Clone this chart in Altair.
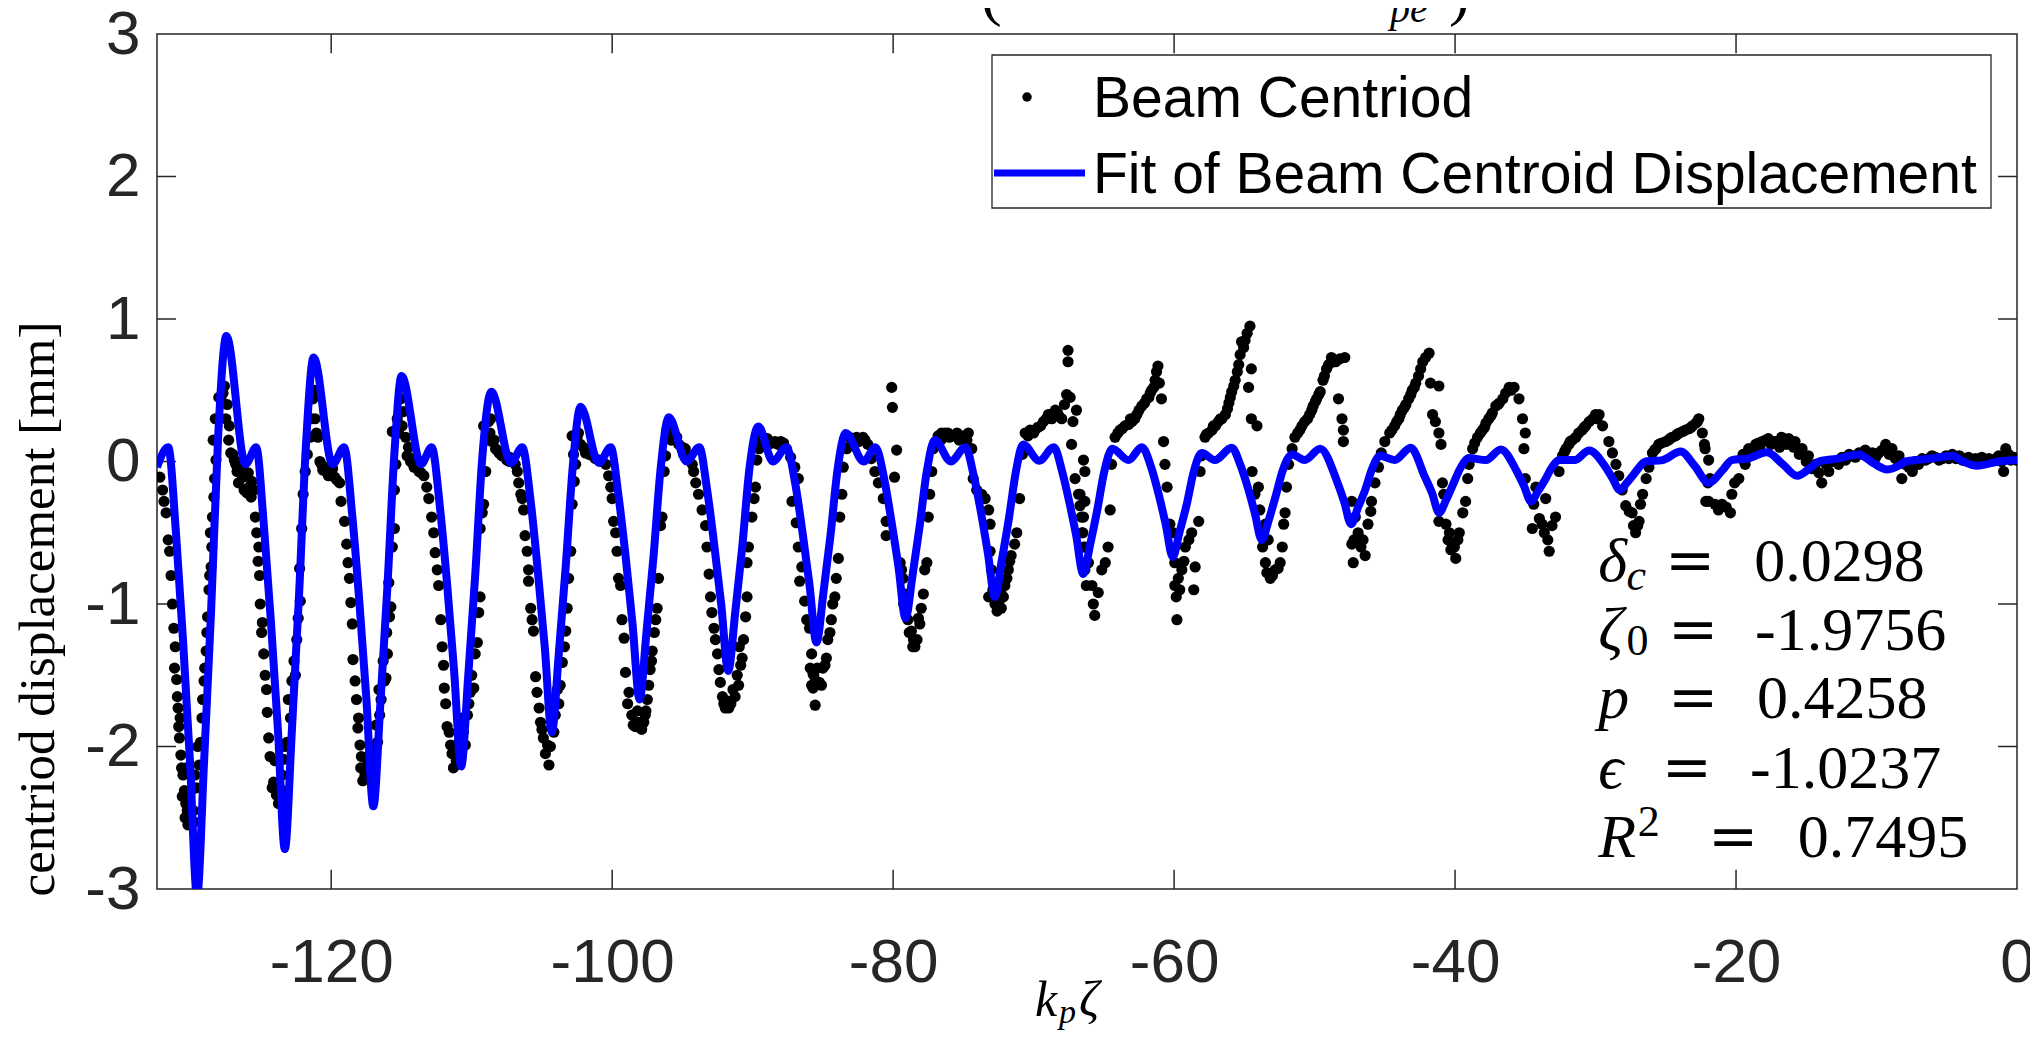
import altair as alt
import pandas as pd

# ---------------- axis ranges / ticks ----------------
X_MIN, X_MAX = -132.4, 0.0
Y_MIN, Y_MAX = -3.0, 3.0
x_tick_values = [-120, -100, -80, -60, -40, -20, 0]
y_tick_values = [-3, -2, -1, 0, 1, 2, 3]

# ---------------- Beam centroid (black dots) ----------------
beam_a = [(-132.2,-0.11),(-132.0,-0.2),(-131.9,-0.28),(-131.75,-0.36),(-131.6,-0.55),(-131.5,-0.63),(-131.4,-0.8),
 (-131.3,-1.0),(-131.2,-1.17),(-131.15,-1.45),(-131.0,-1.53),(-130.9,-1.73),(-130.85,-1.86),(-130.8,-1.94),(-130.7,-2.06),
 (-130.55,-2.2),(-130.45,-2.31),(-130.35,-2.4),(-130.25,-2.45),(-130.1,-2.37),(-129.75,-2.53),(-129.6,-2.29),(-129.4,-2.13),
 (-129.3,-1.97),(-129.15,-1.67),(-129.05,-1.54),(-128.9,-1.33),(-128.8,-1.09),(-128.7,-0.9),(-128.55,-0.74),(-128.5,-0.6),
 (-128.45,-0.39),(-128.3,-0.12),(-128.2,0.01),(-128.25,0.3),(-128.1,0.3),(-127.85,0.44),(-127.6,0.53),(-127.4,0.4),
 (-127.25,0.25),(-127.15,0.06),(-126.9,0.01),(-126.7,-0.07),(-126.5,-0.05),(-126.3,-0.11),(-126.1,-0.08),(-125.85,-0.18),
 (-125.65,-0.14),(-125.5,-0.2),(-125.4,-0.39),(-125.3,-0.5),(-125.15,-0.6),(-125.05,-1.0),(-124.9,-1.13),(-124.8,-1.35),
 (-124.7,-1.5),(-124.55,-1.76),(-124.45,-1.94),(-124.35,-2.07),(-124.2,-2.29),(-123.9,-2.34),(-123.5,-2.2),(-123.4,-2.09),
 (-123.15,-1.97),(-123.05,-1.67),(-122.8,-1.54),(-122.55,-1.5),(-122.45,-1.25),(-122.2,-0.98),(-122.1,-0.47),(-122.0,-0.23),
 (-121.85,-0.07),(-121.5,0.17),(-121.3,0.44),(-121.15,0.3),(-120.95,0.17),(-120.7,-0.02),(-120.5,-0.04),(-120.35,-0.07),
 (-120.05,-0.09),(-119.75,-0.11),(-119.4,-0.15),(-119.3,-0.28),(-119.05,-0.42),(-118.9,-0.58),(-118.8,-0.71),(-118.7,-0.82),
 (-118.6,-0.99),(-118.5,-1.14),(-118.45,-1.39),(-118.3,-1.54),(-118.2,-1.67),(-118.1,-1.87),(-117.95,-1.99),(-117.85,-2.07),
 (-117.75,-2.24),(-117.4,-2.1),(-116.9,-2.02),(-116.7,-1.97),(-116.55,-1.78),(-116.45,-1.67),(-116.2,-1.54),(-116.1,-1.52),
 (-116.0,-1.35),(-115.85,-1.09),(-115.75,-1.02),(-115.65,-0.6),(-115.5,-0.47),(-115.5,-0.2),(-115.4,-0.02),(-115.65,0.21),
 (-115.3,0.3),(-115.05,0.44),(-114.95,0.25),(-114.7,0.17),(-114.6,0.04),(-114.35,0.0),(-114.1,-0.04),(-113.75,-0.07),
 (-113.4,-0.1),(-113.2,-0.18),(-113.05,-0.26),(-112.85,-0.39),(-112.7,-0.5),(-112.6,-0.64),(-112.45,-0.76),(-112.35,-0.87),
 (-112.2,-1.11),(-112.1,-1.3),(-112.0,-1.43),(-111.95,-1.59),(-111.75,-1.86),(-111.5,-1.99),(-111.3,-2.15),(-110.9,-1.97),
 (-110.7,-1.8)]

beam_b = [(-110.45,-1.99),(-110.3,-1.78),(-110.1,-1.62),(-109.85,-1.59),(-109.75,-1.35),(-109.6,-1.27),(-109.5,-1.06),
 (-109.4,-0.95),(-109.4,-0.47),(-109.25,-0.36),(-109.15,-0.3),(-109.0,-0.07),(-109.15,0.25),(-108.8,0.28),(-108.7,0.2),
 (-108.55,0.14),(-108.3,0.09),(-108.05,0.06),(-107.85,0.04),(-107.5,0.01),(-107.3,0.03),(-107.1,0.01),(-106.9,-0.02),
 (-106.75,-0.07),(-106.65,-0.15),(-106.5,-0.23),(-106.4,-0.26),(-106.3,-0.34),(-106.2,-0.52),(-106.05,-0.63),(-105.95,-0.76),
 (-105.95,-0.84),(-105.8,-1.03),(-105.7,-1.11),(-105.6,-1.19),(-105.45,-1.51),(-105.35,-1.62),(-105.2,-1.73),(-105.1,-1.83),
 (-104.9,-1.94),(-104.6,-1.99),(-104.5,-2.13),(-104.3,-1.83),(-104.05,-1.78),(-103.8,-1.7),(-103.7,-1.57),(-103.55,-1.41),
 (-103.3,-1.19),(-103.2,-1.03),(-103.1,-0.82),(-102.95,-0.63),(-102.85,-0.3),(-102.7,-0.14),(-102.6,-0.02),(-102.85,0.18),
 (-102.5,0.17),(-102.25,0.12),(-101.9,0.06),(-101.65,0.05),(-101.4,0.04),(-101.2,0.02),(-100.95,0.01),(-100.7,0.0),
 (-100.45,-0.02),(-100.25,-0.1),(-100.1,-0.18),(-100.0,-0.26),(-99.9,-0.42),(-99.75,-0.5),(-99.65,-0.63),(-99.55,-0.82),
 (-99.4,-0.87),(-99.3,-1.11),(-99.15,-1.24),(-99.05,-1.48),(-98.8,-1.62),(-98.6,-1.78),(-98.35,-1.86),(-98.1,-1.83),
 (-97.75,-1.83),(-97.65,-1.78),(-97.5,-1.67),(-97.4,-1.57),(-97.3,-1.46),(-97.15,-1.33),(-96.9,-1.11),(-96.8,-1.03),
 (-96.7,-0.82),(-96.55,-0.45),(-96.45,-0.39),(-96.3,-0.07),(-96.2,0.04),(-96.1,0.22),(-95.9,0.2),(-95.7,0.2),(-95.5,0.15),
 (-95.25,0.12),(-95.0,0.1),(-94.8,0.09),(-94.55,0.04),(-94.3,-0.02),(-94.2,-0.07),(-94.05,-0.15),(-93.85,-0.23),(-93.6,-0.34),
 (-93.35,-0.45),(-93.25,-0.6),(-93.1,-0.79),(-93.0,-0.95),(-92.9,-1.06),(-92.75,-1.17),(-92.65,-1.25),(-92.5,-1.35),
 (-92.4,-1.46),(-92.15,-1.65),(-91.95,-1.73),(-91.7,-1.73),(-91.25,-1.65),(-91.0,-1.57),(-90.85,-1.43),(-90.75,-1.38),
 (-90.65,-1.25),(-90.5,-1.09),(-90.4,-0.95),(-90.4,-0.71),(-90.3,-0.6),(-90.05,-0.39),(-89.9,-0.26),(-89.8,-0.18),
 (-89.7,0.01),(-89.55,0.09),(-89.3,0.17),(-89.05,0.15),(-88.85,0.12),(-88.6,0.13),(-88.4,0.14)]

beam_c = [(-88.2,0.12),(-88.0,0.14),(-87.8,0.13),(-87.6,0.09),(-87.3,0.03),(-87.0,-0.04),(-86.75,-0.12),(-87.2,-0.28),
 (-86.9,-0.43),(-86.75,-0.6),(-86.5,-0.74),(-86.65,-0.84),(-86.3,-0.98),(-86.15,-1.11),(-85.95,-1.17),(-85.8,-1.35),
 (-85.7,-1.49),(-85.8,-1.57),(-85.7,-1.59),(-85.55,-1.71),(-85.1,-1.57),(-84.85,-1.43),(-84.75,-1.38),(-84.65,-1.25),
 (-84.4,-1.11),(-84.15,-0.95),(-84.05,-0.82),(-83.9,-0.68),(-83.8,-0.39),(-83.65,-0.23),(-83.55,-0.04),(-83.3,0.09),
 (-83.1,0.17),(-82.85,0.16),(-82.6,0.17),(-82.35,0.15),(-82.15,0.17),(-81.8,0.12),(-81.55,0.02),(-81.3,-0.07),(-81.05,-0.15),
 (-80.7,-0.26),(-80.5,-0.42),(-80.5,-0.52),(-80.1,0.52),(-80.05,0.38),(-79.75,0.08),(-79.9,-0.11),(-79.5,-0.71),(-79.4,-0.76),
 (-79.3,-0.82),(-79.15,-0.93),(-79.05,-1.03),(-78.95,-1.11),(-78.7,-1.19),(-78.55,-1.25),(-78.45,-1.3),(-78.1,-1.14),
 (-78.0,-1.03),(-77.85,-0.93),(-77.75,-0.76),(-77.6,-0.71),(-77.5,-0.39),(-77.4,-0.23),(-77.25,-0.07),(-77.15,0.09),
 (-76.8,0.18),(-76.55,0.2),(-76.3,0.2),(-76.0,0.17),(-75.75,0.18),(-75.45,0.2),(-75.15,0.18),(-74.9,0.17),(-74.65,0.2),
 (-74.4,0.09),(-74.3,-0.12),(-74.05,-0.2),(-73.7,-0.23),(-73.45,-0.26),(-73.2,-0.34),(-73.1,-0.44),(-73.1,-0.63),
 (-73.0,-0.76),(-73.2,-0.95),(-72.75,-1.0),(-72.3,-1.03),(-72.3,-0.93),(-72.05,-0.87),(-71.9,-0.82),(-71.8,-0.76),
 (-71.6,-0.66),(-71.35,-0.58),(-71.2,-0.5),(-71.0,-0.26),(-70.8,0.05),(-70.6,0.2),(-70.25,0.22),(-69.9,0.22),(-69.5,0.25),
 (-69.3,0.28),(-68.95,0.33),(-68.7,0.3),(-68.45,0.36),(-68.2,0.32),(-68.0,0.3),(-67.65,0.47),(-67.55,0.78),(-67.55,0.7),
 (-67.4,0.45),(-67.2,0.28),(-66.95,0.36),(-67.3,0.12),(-67.05,-0.12),(-66.8,-0.23),(-66.7,-0.31),(-66.6,-0.39),
 (-66.5,-0.5),(-66.35,-0.6),(-66.25,-0.87),(-66.35,-0.76)]

beam_d = [(-66.45,0.01),(-66.35,-0.07),(-66.7,-0.23),(-66.35,-0.28),(-66.45,-0.39),(-66.55,-0.5),(-66.45,-0.6),
 (-66.1,-0.71),(-65.85,-0.87),(-65.75,-1.0),(-65.65,-1.08),(-65.4,-0.92),(-65.15,-0.76),(-64.9,-0.71),(-64.7,-0.6),
 (-64.55,-0.34),(-64.45,-0.02),(-64.2,0.17),(-63.85,0.22),(-63.5,0.25),(-63.25,0.26),(-63.0,0.28),(-62.65,0.33),(-62.3,0.39),
 (-61.95,0.44),(-61.7,0.48),(-61.45,0.52),(-61.25,0.63),(-61.15,0.67),(-60.9,0.44),(-60.75,0.14),(-60.65,-0.02),(-60.5,-0.18),
 (-60.3,-0.44),(-60.05,-0.5),(-59.95,-0.71),(-59.7,-0.82),(-59.95,-0.87),(-59.8,-1.11),(-59.45,-0.76),(-59.2,-0.6),
 (-58.95,-0.55),(-58.75,-0.5),(-58.6,-0.9),(-58.5,-0.74),(-58.25,-0.42),(-58.15,-0.07),(-58.05,0.04),(-57.8,0.17),
 (-57.55,0.2),(-57.3,0.22),(-57.05,0.25),(-56.85,0.28),(-56.6,0.3),(-56.35,0.33),(-56.1,0.41),(-55.9,0.49),(-55.65,0.57),
 (-55.4,0.68),(-55.2,0.84),(-54.95,0.85),(-54.6,0.95),(-54.5,0.65),(-54.7,0.52),(-54.5,0.3),(-54.1,0.25),(-54.45,-0.07),
 (-54.0,-0.18),(-54.25,-0.23),(-53.9,-0.34),(-53.5,-0.44),(-53.3,-0.55),(-53.5,-0.71),(-53.15,-0.82),(-52.8,-0.76),
 (-52.45,-0.71),(-52.3,-0.6),(-52.2,-0.44),(-52.1,-0.36),(-52.0,-0.18),(-51.85,-0.02),(-51.6,0.09),(-51.4,0.17),
 (-51.05,0.22),(-50.7,0.28),(-50.35,0.33),(-50.1,0.39),(-49.85,0.44),(-49.6,0.49),(-49.4,0.57),(-49.15,0.65),(-48.8,0.73),
 (-48.5,0.7),(-48.2,0.72),(-47.85,0.73),(-48.3,0.44),(-48.05,0.3),(-47.95,0.22),(-47.95,0.14),(-47.35,-0.28),(-47.1,-0.39),
 (-46.9,-0.5),(-47.35,-0.58),(-47.25,-0.71),(-46.4,-0.66),(-46.2,-0.44),(-45.95,-0.28),(-45.7,-0.15),(-45.45,-0.04),
 (-45.25,0.06),(-45.0,0.14),(-44.65,0.2),(-44.3,0.25)]

beam_e = [(-44.0,0.3),(-43.75,0.36),(-43.5,0.4),(-43.3,0.44),(-43.05,0.5),(-42.8,0.55),(-42.45,0.65),(-42.1,0.73),
 (-41.85,0.76),(-41.75,0.55),(-41.15,0.53),(-41.6,0.33),(-41.4,0.28),(-41.15,0.2),(-41.0,0.12),(-40.9,-0.15),(-40.8,-0.23),
 (-41.15,-0.42),(-40.65,-0.44),(-40.4,-0.5),(-40.2,-0.58),(-39.95,-0.68),(-39.7,-0.5),(-39.45,-0.36),(-39.25,-0.28),
 (-39.1,-0.12),(-39.0,-0.02),(-38.75,0.09),(-38.4,0.17),(-38.05,0.22),(-37.8,0.27),(-37.6,0.3),(-37.35,0.34),(-37.1,0.39),
 (-36.85,0.41),(-36.6,0.44),(-36.15,0.52),(-35.8,0.52),(-35.45,0.44),(-35.2,0.3),(-35.0,0.2),(-35.1,0.09),(-35.0,-0.12),
 (-34.25,-0.18),(-33.55,-0.26),(-34.5,-0.47),(-33.8,-0.44),(-33.3,-0.63),(-32.85,-0.39),(-32.6,-0.07),(-32.35,0.04),
 (-32.1,0.09),(-31.9,0.12),(-31.65,0.15),(-31.4,0.17),(-30.95,0.22),(-30.7,0.25),(-30.45,0.28),(-30.0,0.33),(-29.75,0.33),
 (-29.5,0.25),(-29.05,0.14),(-28.8,0.06),(-28.55,-0.02),(-28.35,-0.1),(-28.1,-0.2),(-27.85,-0.31),(-27.4,-0.36),
 (-27.15,-0.5),(-26.9,-0.42),(-26.65,-0.23),(-26.4,-0.12),(-26.2,-0.04),(-25.95,0.06),(-25.7,0.09),(-25.5,0.12),(-25.0,0.14),
 (-24.8,0.15),(-24.55,0.17),(-24.3,0.18),(-24.05,0.2),(-23.6,0.22),(-23.35,0.23),(-23.1,0.25),(-22.85,0.27),(-22.65,0.3),
 (-22.25,0.12),(-22.0,-0.15),(-22.15,-0.28)]

beam_f = [(-22.4,0.2),(-22.2,0.09),(-21.95,0.01),(-21.85,-0.12),(-21.95,-0.28),(-21.25,-0.34),(-20.4,-0.36),(-20.3,-0.23),
 (-19.8,-0.12),(-19.6,0.02),(-19.35,-0.02),(-19.1,0.09),(-18.9,0.06),(-18.6,0.12),(-18.3,0.1),(-18.15,0.14),(-17.7,0.16),
 (-17.5,0.12),(-17.2,0.14),(-16.9,0.1),(-16.75,0.17),(-16.4,0.12),(-16.25,0.16),(-15.9,0.1),(-15.8,0.14),(-15.5,0.05),
 (-15.3,0.09),(-15.0,0.0),(-14.85,0.04),(-14.6,-0.05),(-14.35,-0.02),(-14.1,-0.08),(-13.9,-0.15),(-13.6,-0.02),(-13.4,-0.07),
 (-13.1,0.0),(-12.7,-0.02),(-12.45,0.03),(-12.2,0.01),(-11.95,0.05),(-11.75,0.04),(-11.5,0.03),(-11.25,0.06),(-11.0,0.05),
 (-10.8,0.08),(-10.55,0.04),(-10.3,0.06),(-10.05,0.03),(-9.85,0.06),(-9.6,0.08),(-9.35,0.12),(-9.1,0.05),(-8.9,0.09),
 (-8.65,0.02),(-8.4,0.04),(-8.2,-0.12),(-7.95,-0.02),(-7.7,-0.04),(-7.45,-0.07),(-7.25,0.0),(-7.0,-0.02),(-6.75,0.02),
 (-6.5,0.01),(-6.3,0.02),(-6.05,0.04),(-5.8,0.03),(-5.55,0.01),(-5.3,0.02),(-5.05,0.04),(-4.85,0.02),(-4.6,0.05),(-4.35,0.02),
 (-4.1,0.04),(-3.9,0.01),(-3.65,0.02),(-3.45,0.03),(-3.2,0.01),(-2.95,0.02),(-2.7,0.01),(-2.5,0.03),(-2.25,0.0),(-2.0,0.02),
 (-1.75,0.01),(-1.5,0.02),(-1.3,0.04),(-1.1,0.0),(-0.95,-0.07),(-0.8,0.09),(-0.6,0.05),(-0.45,0.01),(-0.25,0.03),(-0.05,0.01)]

# second scan: dots in the denser clusters
beam_g = [(-126.6,-0.15),(-126.2,-0.2),(-125.9,-0.08),(-125.7,-0.25),(-126.0,-0.22),
 (-130.6,-2.35),(-130.4,-2.5),(-130.2,-2.55),(-130.0,-2.45),(-129.9,-2.3),(-129.7,-2.2),(-129.8,-2.45),(-130.3,-2.15),
 (-129.5,-2.0),(-131.1,-1.3),(-130.95,-1.65),(-130.75,-1.8),(-130.65,-2.15),
 (-129.2,-1.8),(-129.0,-1.45),(-128.85,-1.2),(-128.65,-0.8),(-128.6,-0.5),(-128.35,-0.25),(-128.4,0.15),(-128.0,0.45),
 (-127.7,0.48),(-127.5,0.3),(-127.3,0.15),(-127.0,0.05),(-126.8,-0.02),
 (-124.1,-2.25),(-123.75,-2.4),(-123.6,-2.3),(-124.0,-2.1),(-123.3,-2.0),(-122.9,-1.8),(-122.65,-1.4),(-122.35,-1.1),
 (-122.25,-0.75),(-124.6,-1.6),(-124.95,-1.2),(-125.1,-0.8),(-125.2,-0.7),
 (-121.7,0.05),(-121.4,0.3),(-121.2,0.5),(-121.05,0.2),(-120.8,0.0),(-120.6,-0.06),(-120.2,-0.1),(-119.9,-0.05),(-119.6,-0.13),
 (-118.05,-1.8),(-117.9,-2.15),(-117.6,-2.2),(-117.2,-2.05),(-117.0,-2.12),(-116.8,-1.85),(-116.6,-1.6),(-116.3,-1.4),
 (-116.05,-1.2),(-115.9,-0.85),
 (-115.2,0.2),(-114.85,0.35),(-114.5,0.1),(-114.2,0.02),(-113.9,-0.02),(-113.6,-0.08),
 (-111.85,-1.7),(-111.6,-1.9),(-111.4,-2.05),(-111.1,-2.1),(-110.85,-2.05),(-110.6,-1.9),(-110.2,-1.7),(-110.0,-1.5),
 (-108.95,0.15),(-108.65,0.3),(-108.4,0.15),(-108.2,0.08),(-107.7,0.05),(-107.3,0.0),
 (-105.0,-1.88),(-104.75,-2.05),(-104.4,-2.0),(-104.15,-1.9),(-103.9,-1.6),(-103.4,-1.3),
 (-102.75,0.05),(-102.4,0.2),(-102.05,0.1),(-101.7,0.08),
 (-98.9,-1.7),(-98.5,-1.85),(-98.2,-1.75),(-97.9,-1.88),(-97.6,-1.75),(-97.2,-1.4),(-97.0,-1.2),
 (-96.0,0.25),(-95.8,0.15),(-95.4,0.17),(-94.9,0.05),
 (-92.3,-1.55),(-92.05,-1.7),(-91.85,-1.68),(-91.55,-1.7),(-91.4,-1.6),(-91.1,-1.5),(-90.95,-1.3),
 (-89.45,0.13),(-89.15,0.12),(-88.95,0.16),
 (-85.9,-1.45),(-85.65,-1.5),(-85.4,-1.45),(-85.25,-1.55),(-85.0,-1.45),(-84.5,-1.2),(-84.3,-1.0),
 (-82.95,0.12),(-82.45,0.14),(-82.0,0.15),
 (-79.25,-1.0),(-78.85,-1.2),(-78.6,-1.3),(-78.3,-1.25),(-78.2,-1.1),
 (-76.6,0.15),(-76.1,0.2),(-75.3,0.15),(-74.75,0.15),
 (-72.9,-0.9),(-72.6,-1.05),(-72.45,-0.98),(-72.15,-0.95),(-71.7,-0.7),
 (-70.4,0.18),(-70.0,0.2),(-69.7,0.24),(-69.1,0.3),(-68.8,0.33),(-68.3,0.34),(-67.8,0.4),
 (-64.0,0.2),(-63.7,0.23),(-63.1,0.3),(-62.8,0.3),(-62.5,0.36),(-62.1,0.41),(-61.8,0.45),(-61.6,0.5),(-61.35,0.57),(-61.05,0.55),
 (-57.7,0.19),(-57.2,0.25),(-56.7,0.3),(-56.2,0.37),(-56.0,0.45),(-55.75,0.53),(-55.5,0.63),(-55.3,0.75),(-55.05,0.8),(-54.8,0.9),
 (-59.85,-0.95),(-59.6,-0.9),(-59.3,-0.7),(-53.7,-0.6),(-53.4,-0.78),(-53.0,-0.8),(-52.6,-0.75),
 (-51.2,0.2),(-50.9,0.25),(-50.5,0.3),(-50.2,0.36),(-49.95,0.42),(-49.7,0.47),(-49.3,0.6),(-49.0,0.68),(-48.65,0.7),
 (-47.2,-0.55),(-46.7,-0.6),(-46.55,-0.55),(-46.0,-0.35),
 (-44.5,0.22),(-44.15,0.28),(-43.9,0.33),(-43.6,0.38),(-43.15,0.47),(-42.9,0.52),(-42.6,0.6),(-42.3,0.7),
 (-40.5,-0.55),(-40.3,-0.62),(-40.05,-0.6),(-39.8,-0.55),
 (-38.6,0.13),(-38.2,0.2),(-37.9,0.24),(-37.45,0.32),(-36.95,0.4),(-36.4,0.48),(-36.0,0.5),
 (-34.4,-0.3),(-34.0,-0.4),(-33.65,-0.5),(-33.4,-0.55),(-33.1,-0.45),
 (-32.2,0.07),(-31.8,0.14),(-31.2,0.2),(-30.8,0.24),(-30.2,0.3),(-29.9,0.3),
 (-27.6,-0.35),(-27.3,-0.45),(-27.0,-0.45),(-26.8,-0.3),
 (-25.8,0.08),(-25.3,0.13),(-24.7,0.16),(-24.2,0.19),(-23.8,0.21),(-23.2,0.24),(-22.75,0.28),
 (-21.5,-0.3),(-21.0,-0.3),(-20.7,-0.32),(-20.1,-0.15),(-19.5,0.05),(-18.4,0.13),(-17.9,0.15),(-17.4,0.14),(-16.6,0.14),
 (-16.0,0.13)]

# ---------------- Fit curve: extrema and flank points ----------------
fit_pts = [(-132.4,-0.04),(-131.6,0.10),(-131.05,-0.50),(-130.55,-1.25),(-130.05,-2.11),(-129.55,-3.05),(-129.05,-2.11),
 (-128.55,-1.05),(-128.05,0.17),(-127.46,0.88),(-126.1,-0.02),(-125.34,0.10),
 (-124.8,-0.44),(-124.3,-1.11),(-123.8,-1.87),(-123.3,-2.72),(-122.8,-1.89),(-122.3,-0.96),(-121.8,0.11),(-121.25,0.73),
 (-119.9,-0.02),(-119.08,0.10),
 (-118.5,-0.38),(-118.0,-0.98),(-117.5,-1.66),(-117.0,-2.42),(-116.5,-1.70),(-116.0,-0.88),(-115.5,0.06),(-114.99,0.60),
 (-113.6,-0.02),(-112.85,0.10),
 (-112.25,-0.33),(-111.75,-0.86),(-111.25,-1.47),(-110.75,-2.14),(-110.25,-1.51),(-109.75,-0.80),(-109.25,0.02),(-108.6,0.49),
 (-107.2,-0.01),(-106.4,0.10),
 (-105.8,-0.28),(-105.3,-0.76),(-104.8,-1.30),(-104.3,-1.90),(-103.8,-1.35),(-103.3,-0.73),(-102.8,-0.03),(-102.25,0.385),
 (-100.95,-0.01),(-100.1,0.10),
 (-99.55,-0.24),(-99.05,-0.66),(-98.55,-1.14),(-98.05,-1.67),(-97.55,-1.19),(-97.05,-0.66),(-96.55,-0.05),(-95.97,0.31),
 (-94.7,0.0),(-93.8,0.10),
 (-93.24,-0.20),(-92.74,-0.58),(-92.24,-1.0),(-91.74,-1.47),(-91.24,-1.06),(-90.74,-0.60),(-90.24,-0.06),(-89.6,0.246),
 (-88.55,0.0),(-87.6,0.10),
 (-86.96,-0.16),(-86.46,-0.49),(-85.96,-0.86),(-85.46,-1.27),(-84.96,-0.92),(-84.46,-0.52),(-83.96,-0.06),(-83.37,0.20),
 (-82.1,0.0),(-81.26,0.10),
 (-80.62,-0.13),(-80.12,-0.42),(-79.62,-0.74),(-79.12,-1.10),(-78.62,-0.80),(-78.12,-0.46),(-77.62,-0.08),(-77.03,0.15),
 (-75.9,0.0),(-74.85,0.10),
 (-74.26,-0.10),(-73.76,-0.35),(-73.26,-0.64),(-72.76,-0.95),(-72.26,-0.69),(-71.76,-0.40),(-71.26,-0.07),(-70.75,0.12),
 (-69.6,0.005),(-68.56,0.10),
 (-67.97,-0.07),(-67.47,-0.28),(-66.97,-0.52),(-66.47,-0.79),(-65.97,-0.58),(-65.47,-0.34),(-64.97,-0.07),(-64.4,0.09),
 (-63.25,0.01),(-62.3,0.10),
 (-61.6,-0.05),(-61.1,-0.23),(-60.6,-0.44),(-60.1,-0.67),(-59.6,-0.49),(-59.1,-0.30),(-58.6,-0.07),(-58.03,0.06),
 (-57.1,0.01),(-55.9,0.096),
 (-55.26,-0.03),(-54.76,-0.18),(-54.26,-0.36),(-53.76,-0.55),(-53.26,-0.41),(-52.76,-0.24),(-52.26,-0.06),(-51.6,0.05),
 (-50.7,0.01),(-49.6,0.09),
 (-48.4,-0.14),(-47.9,-0.28),(-47.4,-0.44),(-46.9,-0.32),(-46.4,-0.20),(-45.9,-0.05),(-45.34,0.04),(-44.3,0.01),(-43.16,0.096),
 (-42.14,-0.11),(-41.64,-0.22),(-41.14,-0.36),(-40.64,-0.27),(-40.14,-0.16),(-39.64,-0.05),(-39.0,0.024),(-37.8,0.01),
 (-36.75,0.085),
 (-35.6,-0.07),(-35.1,-0.17),(-34.6,-0.28),(-34.1,-0.21),(-33.6,-0.13),(-33.1,-0.04),(-32.6,0.01),(-31.5,0.01),(-30.46,0.077),
 (-29.28,-0.04),(-28.78,-0.12),(-28.28,-0.20),(-27.78,-0.15),(-27.28,-0.09),(-26.43,0.0),(-25.24,0.01),(-23.94,0.07),
 (-22.95,-0.03),(-21.95,-0.15),(-20.95,-0.06),(-20.3,0.01),(-19.2,0.02),(-17.8,0.065),
 (-16.66,-0.02),(-15.66,-0.10),(-14.66,-0.04),(-14.1,0.0),(-12.8,0.02),(-11.27,0.05),
 (-10.25,-0.01),(-9.25,-0.056),(-8.25,-0.02),(-7.95,0.0),(-6.2,0.02),(-4.6,0.04),
 (-3.85,0.0),(-2.85,-0.03),(-1.3,0.0),(0.0,0.01)]

# ---------------- fit parameter annotation ----------------
param_symbols = ["δ", "ζ", "p", "ϵ", "R"]
param_values = ["0.0298", "-1.9756", "0.4258", "-1.0237", "0.7495"]
param_row_y = [-0.705, -1.19, -1.67, -2.16, -2.64]
param_eq_x = [-23.27, -23.06, -23.06, -23.5, -20.2]
param_val_x = [-18.7, -18.65, -18.5, -19.0, -15.6]
param_sym_x = -29.8

legend_labels = ["Beam Centriod", "Fit of Beam Centroid Displacement"]

# ---------------- build tables ----------------
beam_all = beam_a + beam_b + beam_c + beam_d + beam_e + beam_f + beam_g
dots_df = pd.DataFrame({"x": [p[0] for p in beam_all], "y": [p[1] for p in beam_all]})
fit_df = pd.DataFrame({"x": [p[0] for p in fit_pts], "y": [p[1] for p in fit_pts]})

TL_Y = 0.135   # inner tick length in y units
TL_X = 1.35    # inner tick length in x units
tick_rows = []
for xv in x_tick_values[:-1]:
    tick_rows.append({"x": xv, "x2": xv, "y": Y_MIN, "y2": Y_MIN + TL_Y})
    tick_rows.append({"x": xv, "x2": xv, "y": Y_MAX, "y2": Y_MAX - TL_Y})
for yv in y_tick_values[1:-1]:
    tick_rows.append({"x": X_MIN, "x2": X_MIN + TL_X, "y": yv, "y2": yv})
    tick_rows.append({"x": X_MAX, "x2": X_MAX - TL_X, "y": yv, "y2": yv})
ticks_df = pd.DataFrame(tick_rows)

params_df = pd.DataFrame({
    "sym": param_symbols, "val": param_values, "y": param_row_y,
    "eqx": param_eq_x, "valx": param_val_x, "symx": [param_sym_x] * 5, "eq": ["="] * 5,
})
subs_df = pd.DataFrame({"t": ["c"], "x": [-27.8], "y": [-0.81]})
subs_up_df = pd.DataFrame({"t": ["0", "2"], "x": [-27.8, -27.0], "y": [-1.27, -2.535]})

one = pd.DataFrame({"k": [0]})

xs = alt.Scale(domain=[X_MIN, X_MAX], nice=False, zero=False)
ys = alt.Scale(domain=[Y_MIN, Y_MAX], nice=False, zero=False)

SERIF = "Liberation Serif, DejaVu Serif, serif"
SANS = "Liberation Sans, Arial, Helvetica, sans-serif"
AX = "#262626"

x_axis = alt.Axis(values=x_tick_values, labelExpr="'' + datum.value", title=None, grid=False,
                  ticks=False, tickSize=0, domain=False, labelFont=SANS, labelFontSize=62,
                  labelColor=AX, labelPadding=43, labelFlush=False, labelOverlap=False, labelBound=False)
y_axis = alt.Axis(values=y_tick_values, labelExpr="'' + datum.value", title=None, grid=False,
                  ticks=False, tickSize=0, domain=False, labelFont=SANS, labelFontSize=62,
                  labelColor=AX, labelPadding=17, labelFlush=False, labelOverlap=False, labelBound=False)


def X(field):
    return alt.X(field, type="quantitative", scale=xs, axis=x_axis)


def Y(field):
    return alt.Y(field, type="quantitative", scale=ys, axis=y_axis)


ticks = alt.Chart(ticks_df).mark_rule(color=AX, strokeWidth=1.5).encode(
    x=X("x"), x2="x2:Q", y=Y("y"), y2="y2:Q")

dots = alt.Chart(dots_df).mark_circle(color="black", size=125, opacity=1, clip=True).encode(
    x=X("x"), y=Y("y"))

fit = alt.Chart(fit_df).mark_line(color="#0000ff", strokeWidth=8, interpolate="monotone", clip=True).encode(
    x=X("x"), y=Y("y"), order="x:Q")

sym_txt = alt.Chart(params_df).mark_text(font=SERIF, fontStyle="italic", fontSize=62, align="left",
                                         baseline="middle", color="black").encode(
    x=X("symx"), y=Y("y"), text="sym:N")
eq_txt = alt.Chart(params_df).mark_text(font="DejaVu Serif", fontSize=60, align="center",
                                        baseline="middle", color="black").encode(
    x=X("eqx"), y=Y("y"), text="eq:N")
val_txt = alt.Chart(params_df).mark_text(font=SERIF, fontSize=62, align="left",
                                         baseline="middle", color="black").encode(
    x=X("valx"), y=Y("y"), text="val:N")
sub_it = alt.Chart(subs_df).mark_text(font=SERIF, fontStyle="italic", fontSize=44, align="left",
                                      baseline="middle", color="black").encode(
    x=X("x"), y=Y("y"), text="t:N")
sub_up = alt.Chart(subs_up_df).mark_text(font=SERIF, fontSize=44, align="left",
                                         baseline="middle", color="black").encode(
    x=X("x"), y=Y("y"), text="t:N")

# ---- legend (drawn manually, top right) ----
leg_box = alt.Chart(one).mark_rect(fill="white", stroke=AX, strokeWidth=1.3).encode(
    x=alt.value(835), x2=alt.value(1834), y=alt.value(21), y2=alt.value(174))
leg_dot = alt.Chart(one).mark_circle(color="black", size=90, opacity=1).encode(
    x=alt.value(870), y=alt.value(63))
leg_line = alt.Chart(one).mark_rule(color="#0000ff", strokeWidth=7).encode(
    x=alt.value(837), x2=alt.value(928), y=alt.value(139))
leg_t1 = alt.Chart(one).mark_text(font=SANS, fontSize=57, align="left", baseline="middle", color="black").encode(
    x=alt.value(936), y=alt.value(66), text=alt.value(legend_labels[0]))
leg_t2 = alt.Chart(one).mark_text(font=SANS, fontSize=57, align="left", baseline="middle", color="black").encode(
    x=alt.value(936), y=alt.value(142), text=alt.value(legend_labels[1]))

# ---- axis titles (LaTeX style) ----
ytitle = alt.Chart(one).mark_text(font=SERIF, fontSize=51, angle=270, align="center", baseline="middle",
                                  color="black").encode(
    x=alt.value(-118), y=alt.value(575), text=alt.value("centriod displacement [mm]"))
xt_k = alt.Chart(one).mark_text(font=SERIF, fontStyle="italic", fontSize=50, align="left",
                                baseline="alphabetic", color="black").encode(
    x=alt.value(878), y=alt.value(982), text=alt.value("k"))
xt_p = alt.Chart(one).mark_text(font=SERIF, fontStyle="italic", fontSize=34, align="left",
                                baseline="alphabetic", color="black").encode(
    x=alt.value(902), y=alt.value(989), text=alt.value("p"))
xt_z = alt.Chart(one).mark_text(font=SERIF, fontStyle="italic", fontSize=50, align="left",
                                baseline="alphabetic", color="black").encode(
    x=alt.value(922), y=alt.value(982), text=alt.value("ζ"))

# ---- clipped title remnants at the very top ----
tt_open = alt.Chart(one).mark_text(font=SERIF, fontSize=62, align="left", baseline="alphabetic",
                                   color="black").encode(
    x=alt.value(824), y=alt.value(-20), text=alt.value("("))
tt_pe = alt.Chart(one).mark_text(font=SERIF, fontStyle="italic", fontSize=40, align="left",
                                 baseline="alphabetic", color="black").encode(
    x=alt.value(1233), y=alt.value(-12), text=alt.value("pe"))
tt_close = alt.Chart(one).mark_text(font=SERIF, fontSize=62, align="left", baseline="alphabetic",
                                    color="black").encode(
    x=alt.value(1292), y=alt.value(-20), text=alt.value(")"))

chart = alt.layer(
    ticks, dots, fit, sym_txt, eq_txt, val_txt, sub_it, sub_up,
    leg_box, leg_dot, leg_line, leg_t1, leg_t2, ytitle, xt_k, xt_p, xt_z,
    tt_open, tt_pe, tt_close,
).properties(
    width=1860, height=855,
    autosize=alt.AutoSizeParams(type="none"),
    padding={"left": 149, "top": 26, "right": 13, "bottom": 142},
    background="white",
).configure_view(stroke=AX, strokeWidth=1.5)

chart.save("out.html", embed_options={"renderer": "svg", "actions": False})
